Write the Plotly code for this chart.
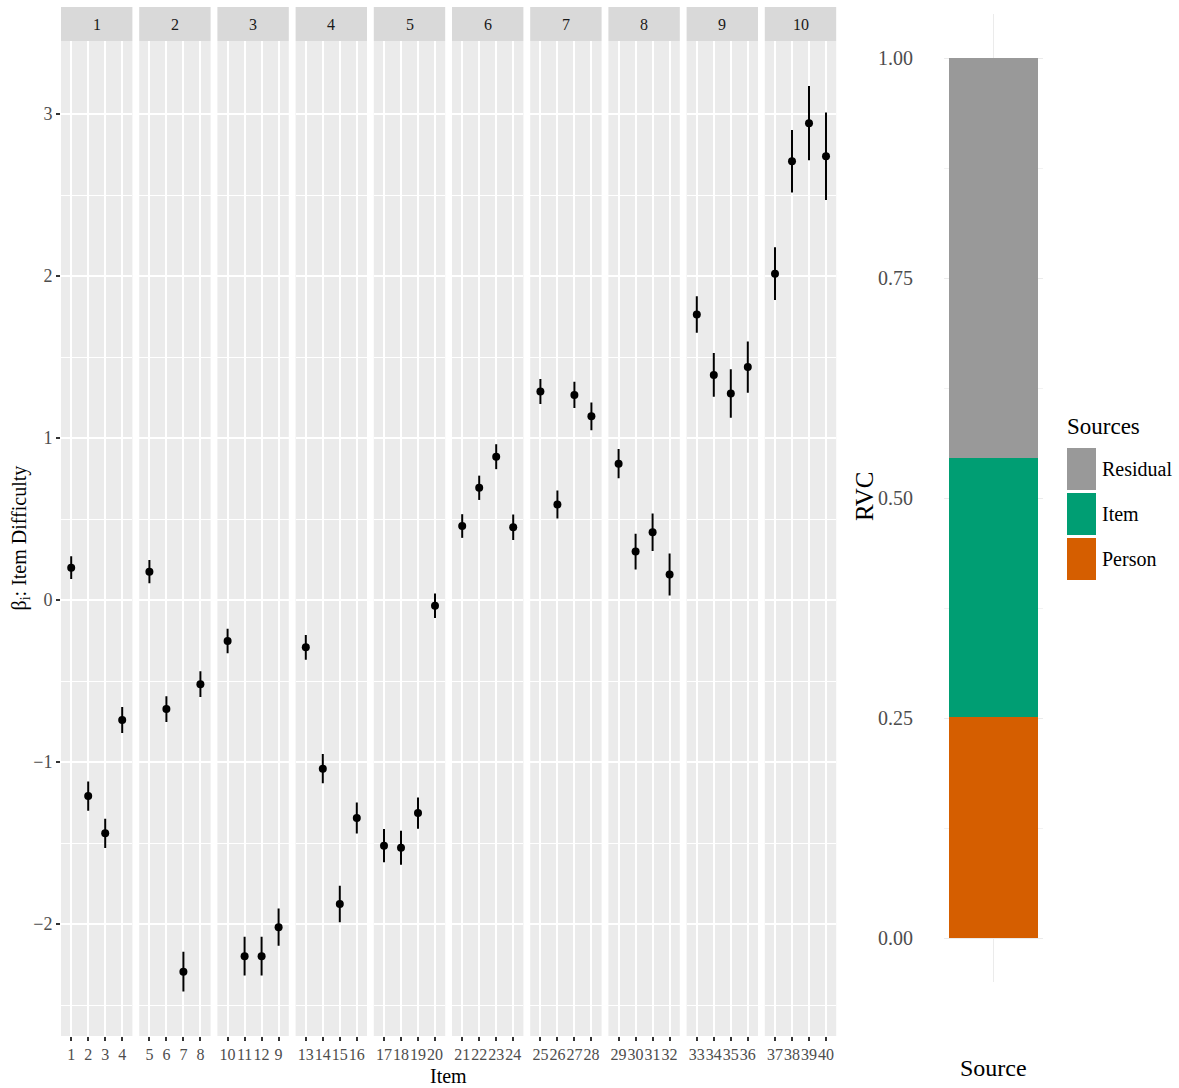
import plotly.graph_objects as go

# ---- data -------------------------------------------------------------
facet_ids = list(range(1, 11))

item_labels = [
    "1", "2", "3", "4",
    "5", "6", "7", "8",
    "10", "11", "12", "9",
    "13", "14", "15", "16",
    "17", "18", "19", "20",
    "21", "22", "23", "24",
    "25", "26", "27", "28",
    "29", "30", "31", "32",
    "33", "34", "35", "36",
    "37", "38", "39", "40",
]
item_facet = [f for f in facet_ids for _ in range(4)]

difficulty = [
    0.200, -1.210, -1.440, -0.740,
    0.175, -0.673, -2.294, -0.519,
    -0.253, -2.198, -2.198, -2.019,
    -0.292, -1.041, -1.876, -1.345,
    -1.516, -1.529, -1.315, -0.035,
    0.457, 0.693, 0.885, 0.449,
    1.288, 0.590, 1.266, 1.134,
    0.842, 0.299, 0.419, 0.158,
    1.763, 1.390, 1.275, 1.438,
    2.015, 2.709, 2.944, 2.739,
]
half_width = [
    0.070, 0.090, 0.090, 0.080,
    0.072, 0.080, 0.123, 0.080,
    0.076, 0.120, 0.120, 0.115,
    0.077, 0.090, 0.113, 0.096,
    0.103, 0.105, 0.096, 0.075,
    0.073, 0.075, 0.077, 0.079,
    0.077, 0.086, 0.081, 0.086,
    0.090, 0.111, 0.116, 0.130,
    0.113, 0.135, 0.150, 0.158,
    0.163, 0.193, 0.229, 0.270,
]

y_tickvals = [-2, -1, 0, 1, 2, 3]
y_ticktext = ["\u22122", "\u22121", "0", "1", "2", "3"]
y_minorvals = [-2.5, -1.5, -0.5, 0.5, 1.5, 2.5]

rvc_sources = ["Person", "Item", "Residual"]
rvc_values = [0.251, 0.295, 0.454]
rvc_colors = ["#D55E00", "#009E73", "#999999"]
legend_order = ["Residual", "Item", "Person"]

rvc_tickvals = [0, 0.25, 0.5, 0.75, 1.0]
rvc_ticktext = ["0.00", "0.25", "0.50", "0.75", "1.00"]
rvc_minorvals = [0.125, 0.375, 0.625, 0.875]

# ---- geometry helpers ------------------------------------------------
W, H = 1179, 1088
FONT = "Liberation Serif"


def px(x):
    return x / W


def py(y):
    return 1 - y / H


PANEL_LEFT0, PANEL_STEP, PANEL_W = 61, 78.2, 71.4
PANEL_TOP, PANEL_BOTTOM = 41, 1036
STRIP_TOP = 7

fig = go.Figure()
layout = {}
shapes = []
annotations = []


def label(x, y, text, size, **kw):
    d = dict(x=x, y=y, xref="paper", yref="paper", text=text, showarrow=False,
             xanchor="center", yanchor="middle",
             font=dict(family=FONT, size=size, color=kw.pop("color", "black")))
    d.update(kw)
    return d


# ---- faceted item-difficulty panels ------------------------------------
for i, f in enumerate(facet_ids):
    ax = "x" if i == 0 else f"x{i + 1}"
    key = "xaxis" if i == 0 else f"xaxis{i + 1}"
    idx = [k for k, g in enumerate(item_facet) if g == f]
    labs = [item_labels[k] for k in idx]
    fig.add_trace(go.Scatter(
        x=labs,
        y=[difficulty[k] for k in idx],
        mode="markers",
        marker=dict(color="black", size=8),
        error_y=dict(type="data", array=[half_width[k] for k in idx],
                     visible=True, color="black", thickness=2, width=0),
        xaxis=ax, yaxis="y", showlegend=False, hoverinfo="x+y",
    ))
    left = PANEL_LEFT0 + i * PANEL_STEP
    right = left + PANEL_W
    layout[key] = dict(
        domain=[px(left), px(right)], anchor="y",
        type="category", categoryorder="array", categoryarray=labs,
        tickmode="array", tickvals=labs, ticktext=labs,
        range=[-0.6, 3.6],
        showgrid=True, gridcolor="white", gridwidth=2,
        zeroline=False, showline=False,
        ticks="outside", ticklen=4, tickwidth=1.5, tickcolor="#333333",
        tickfont=dict(family=FONT, size=16, color="#4D4D4D"),
        tickangle=0, fixedrange=True,
    )
    # panel background
    shapes.append(dict(type="rect", xref="paper", yref="paper",
                       x0=px(left), x1=px(right),
                       y0=py(PANEL_BOTTOM), y1=py(PANEL_TOP),
                       fillcolor="#EBEBEB", line=dict(width=0), layer="below"))
    # strip
    shapes.append(dict(type="rect", xref="paper", yref="paper",
                       x0=px(left), x1=px(right),
                       y0=py(PANEL_TOP), y1=py(STRIP_TOP),
                       fillcolor="#D9D9D9", line=dict(width=0), layer="below"))
    annotations.append(label(px((left + right) / 2), py((STRIP_TOP + PANEL_TOP) / 2),
                             str(f), 16, color="#1A1A1A"))

layout["yaxis"] = dict(
    domain=[py(PANEL_BOTTOM), py(PANEL_TOP)], anchor="x",
    range=[-2.691, 3.451],
    tickmode="array", tickvals=y_tickvals, ticktext=y_ticktext,
    showgrid=True, gridcolor="white", gridwidth=2,
    minor=dict(tickmode="array", tickvals=y_minorvals, showgrid=True,
               gridcolor="white", gridwidth=1.1, ticks=""),
    zeroline=False, showline=False,
    ticks="outside", ticklen=4, tickwidth=1.5, tickcolor="#333333",
    tickfont=dict(family=FONT, size=18, color="#4D4D4D"),
    fixedrange=True,
)

# ---- relative variance components (stacked bar) ------------------------
for src, val, col in zip(rvc_sources, rvc_values, rvc_colors):
    fig.add_trace(go.Bar(
        x=["Source"], y=[val], name=src, width=0.9,
        marker=dict(color=col, line=dict(width=0)),
        xaxis="x11", yaxis="y2", showlegend=False,
    ))

layout["xaxis11"] = dict(
    domain=[px(944), px(1043)], anchor="y2",
    type="category", range=[-0.5, 0.5],
    showticklabels=False, ticks="",
    showgrid=True, gridcolor="#EBEBEB", gridwidth=1.2,
    zeroline=False, showline=False, fixedrange=True,
)
layout["yaxis2"] = dict(
    domain=[py(982), py(14)], anchor="x11",
    range=[-0.05, 1.05],
    tickmode="array", tickvals=rvc_tickvals, ticktext=rvc_ticktext,
    showgrid=True, gridcolor="#EBEBEB", gridwidth=1.2,
    minor=dict(tickmode="array", tickvals=rvc_minorvals, showgrid=True,
               gridcolor="#F2F2F2", gridwidth=0.8, ticks=""),
    zeroline=False, showline=False, ticks="",
    ticklabelstandoff=30,
    tickfont=dict(family=FONT, size=20, color="#4D4D4D"),
    fixedrange=True,
)

# ---- legend (drawn as keys + labels) -----------------------------------
annotations.append(label(px(1065), py(426), "Sources", 23, xanchor="left"))
key_rows = [(448, 490), (493, 535), (538, 580)]
for name, (top, bottom) in zip(legend_order, key_rows):
    col = rvc_colors[rvc_sources.index(name)]
    shapes.append(dict(type="rect", xref="paper", yref="paper",
                       x0=px(1067), x1=px(1096), y0=py(bottom), y1=py(top),
                       fillcolor=col, line=dict(width=0)))
    annotations.append(label(px(1100), py((top + bottom) / 2), name, 20, xanchor="left"))

# ---- axis titles ---------------------------------------------------------
annotations += [
    label(px(20), py((PANEL_TOP + PANEL_BOTTOM) / 2),
          "\u03b2<sub>i</sub>: Item Difficulty", 20, textangle=-90),
    label(px(448), py(1076), "Item", 20),
    label(px(864), py(497), "RVC", 25, textangle=-90),
    label(px(993), py(1068), "Source", 24),
]

fig.update_layout(
    width=W, height=H,
    margin=dict(l=0, r=0, t=0, b=0),
    paper_bgcolor="white", plot_bgcolor="rgba(0,0,0,0)",
    barmode="stack", bargap=0.1,
    font=dict(family=FONT, color="black"),
    shapes=shapes, annotations=annotations,
    showlegend=False,
    **layout,
)

fig.write_html("out.html")
